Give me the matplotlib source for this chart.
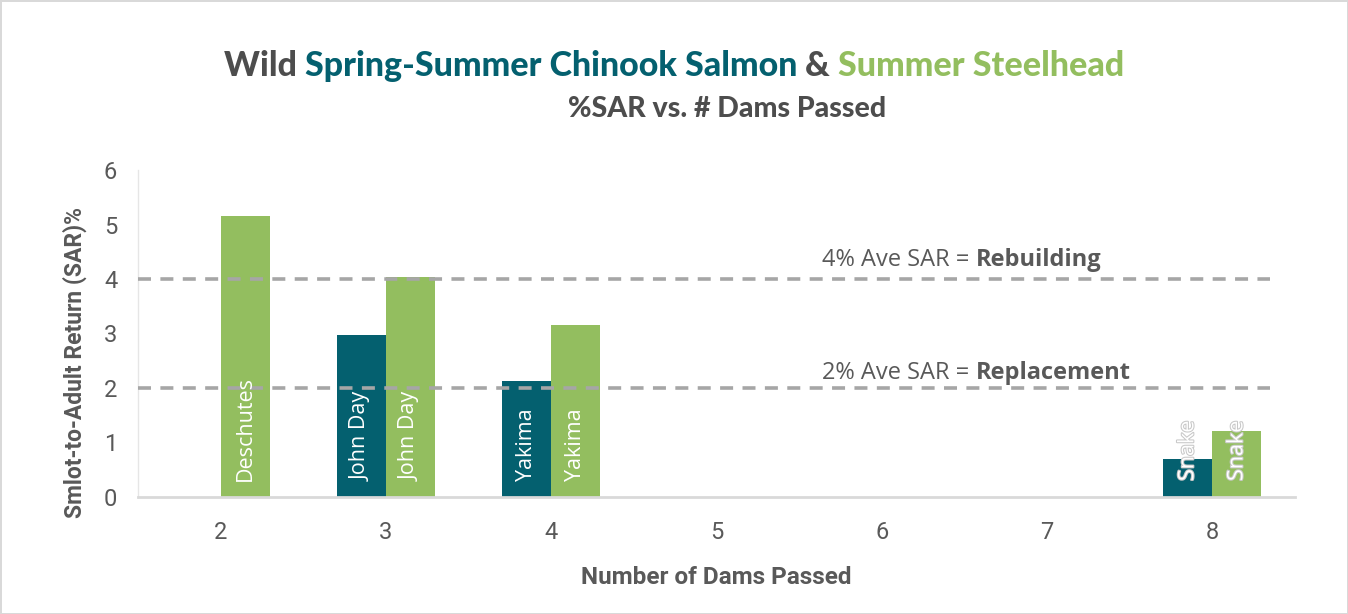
import matplotlib
matplotlib.use('Agg')
import matplotlib.pyplot as plt
import matplotlib.patheffects as pe
from matplotlib.offsetbox import TextArea, HPacker, AnchoredOffsetbox
import numpy as np

dams = ['2', '3', '4', '5', '6', '7', '8']
chinook = [0, 2.97, 2.13, 0, 0, 0, 0.69]
steelhead = [5.16, 4.04, 3.15, 0, 0, 0, 1.21]
chinook_labels = ['', 'John Day', 'Yakima', '', '', '', 'Snake']
steelhead_labels = ['Deschutes', 'John Day', 'Yakima', '', '', '', 'Snake']
thresholds = [4, 2]
threshold_text = [('4% Ave SAR = ', 'Rebuilding'), ('2% Ave SAR = ', 'Replacement')]

TEAL = '#04606f'
GREEN = '#93be5f'
GRAY = '#595959'
DASH = '#a6a6a6'
TFONT = 'Lato'
FONT = 'Open Sans'

fig = plt.figure(figsize=(13.48, 6.14), dpi=100)
fig.patch.set_edgecolor('#d9d9d9')
fig.patch.set_linewidth(2)
ax = fig.add_axes([0.1024, 0.1906, 0.8583, 0.5325])

x = np.arange(len(dams))
w = 0.297
ax.bar(x - w / 2, chinook, w, color=TEAL, zorder=2)
ax.bar(x + w / 2, steelhead, w, color=GREEN, zorder=2)

for xs, vals, labs in [(x - w / 2, chinook, chinook_labels), (x + w / 2, steelhead, steelhead_labels)]:
    for xi, v, lab in zip(xs, vals, labs):
        if not lab:
            continue
        t = ax.annotate(lab, (xi, 0), xytext=(0, 11.5), textcoords='offset points',
                        rotation=90, ha='center', va='bottom', color='white',
                        fontsize=15.5, family=FONT, zorder=4)
        if v < 1.5:
            t.set_path_effects([pe.withStroke(linewidth=1.5, foreground='#c8c8c8')])

for yv in thresholds:
    ax.plot([-0.5, 6.35], [yv, yv], color=DASH, lw=2.6, dashes=(3.6, 2.6), zorder=3)

for (txt, bold), yv in zip(threshold_text, [4.35, 2.28]):
    box = HPacker(children=[TextArea(txt, textprops=dict(color=GRAY, fontsize=17, family=FONT)),
                            TextArea(bold, textprops=dict(color=GRAY, fontsize=17, family=FONT, fontweight='bold'))],
                  pad=0, sep=0, align='baseline')
    ab = AnchoredOffsetbox(loc='center left', child=box, bbox_to_anchor=(3.64, yv),
                           bbox_transform=ax.transData, frameon=False, pad=0, borderpad=0)
    ax.add_artist(ab)

ax.set_xlim(-0.5, 6.5)
ax.set_ylim(0, 6)
ax.set_xticks(x)
ax.set_xticklabels(dams)
ax.set_yticks(range(7))
ax.tick_params(length=0, labelsize=17, labelcolor=GRAY, pad=15)
ax.tick_params(axis='x', pad=17)
for lab in ax.get_xticklabels() + ax.get_yticklabels():
    lab.set_family('Roboto')
for s in ['top', 'right']:
    ax.spines[s].set_visible(False)
ax.spines['bottom'].set_color('#d9d9d9')
ax.spines['bottom'].set_linewidth(2)
ax.spines['left'].set_color('#e6e6e6')
ax.spines['left'].set_linewidth(1)
ax.set_xlabel('Number of Dams Passed', fontsize=17.5, color=GRAY, fontweight='bold', family='Roboto', labelpad=16)
ax.set_ylabel('Smlot-to-Adult Return (SAR)%', fontsize=16.5, color=GRAY, fontweight='bold', family='Roboto')
ax.yaxis.set_label_coords(-0.044, 0.41)

tp = dict(fontweight='black', family=TFONT)
parts = [('Wild ', '#4d4d4d'), ('Spring-Summer Chinook Salmon ', TEAL), ('& ', '#4d4d4d'), ('Summer Steelhead', GREEN)]
line1 = HPacker(children=[TextArea(t, textprops=dict(color=c, fontsize=24.5, **tp)) for t, c in parts],
                pad=0, sep=0, align='baseline')
fig.add_artist(AnchoredOffsetbox(loc='center', child=line1, bbox_to_anchor=(0.5, 0.893),
                                 bbox_transform=fig.transFigure, frameon=False, pad=0, borderpad=0))
fig.text(0.539, 0.822, '%SAR vs. # Dams Passed', ha='center', va='center', color='#4d4d4d', fontsize=20.5, **tp)

fig.savefig('out.png', dpi=100, edgecolor=fig.get_edgecolor())
